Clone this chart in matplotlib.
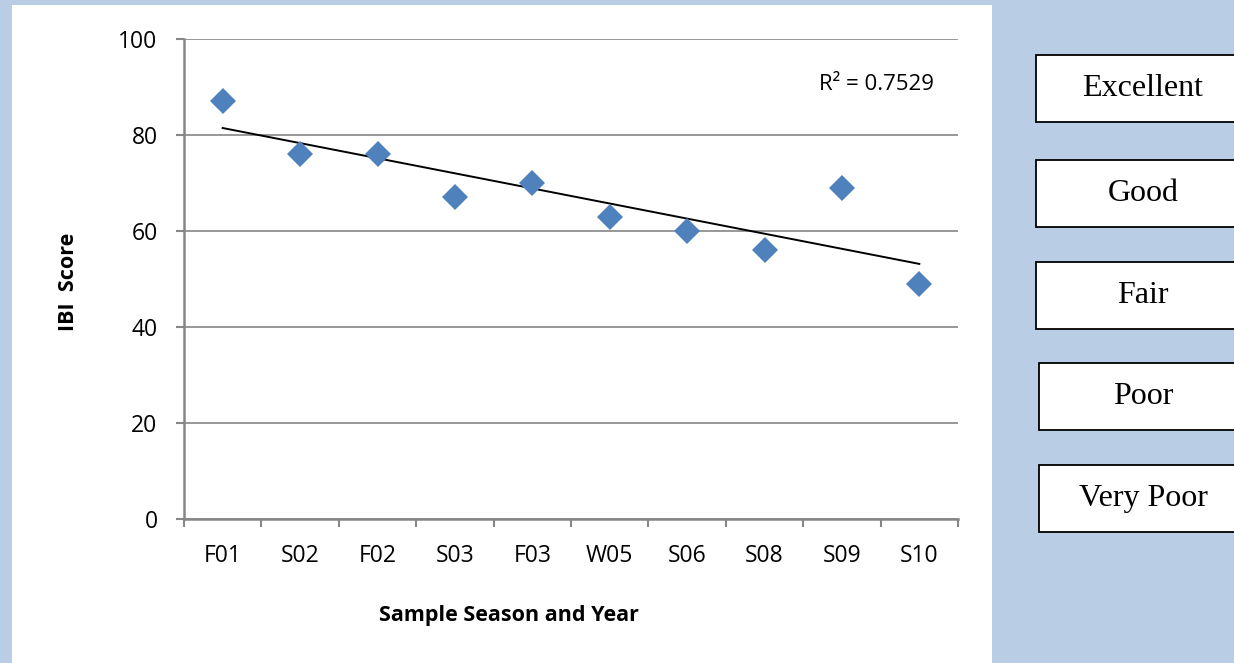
import numpy as np
import matplotlib.pyplot as plt
from matplotlib.patches import Rectangle

# IBI scores by sampling event
samples = ['F01', 'S02', 'F02', 'S03', 'F03', 'W05', 'S06', 'S08', 'S09', 'S10']
ibi_scores = [87, 76, 76, 67, 70, 63, 60, 56, 69, 49]
rating_labels = ['Excellent', 'Good', 'Fair', 'Poor', 'Very Poor']
y_ticks = [0, 20, 40, 60, 80, 100]

W, H = 1234, 663
BLUE = '#B9CDE5'
GRID = '#868686'
MARKER = '#4F81BD'
SANS = 'Open Sans'

fig = plt.figure(figsize=(W / 100, H / 100), dpi=100, facecolor=BLUE)

# white chart panel
fig.patches.append(Rectangle((12 / W, 0), (992 - 12) / W, 1 - 5 / H,
                             transform=fig.transFigure, facecolor='white',
                             edgecolor='none', zorder=-5))

ax = fig.add_axes([184 / W, 1 - 519 / H, (958 - 184) / W, (519 - 39) / H])
ax.set_facecolor('none')
ax.set_zorder(2)

x = np.arange(1, len(samples) + 1)
ax.plot(x, ibi_scores, linestyle='none', marker='D', markersize=13,
        color=MARKER, markeredgewidth=0, zorder=3)

# linear trendline
slope, intercept = np.polyfit(x, ibi_scores, 1)
fit = slope * x + intercept
ss_res = np.sum((np.array(ibi_scores) - fit) ** 2)
ss_tot = np.sum((np.array(ibi_scores) - np.mean(ibi_scores)) ** 2)
r2 = 1 - ss_res / ss_tot
ax.plot([x[0], x[-1]], [fit[0], fit[-1]], color='black', linewidth=1.4, zorder=2)
ax.text(0.895, 0.905, f'R² = {r2:.4f}', transform=ax.transAxes,
        ha='center', va='center', fontsize=16, family=SANS)

ax.set_xlim(0.5, len(samples) + 0.5)
ax.set_ylim(0, 100)
ax.set_yticks(y_ticks)
ax.yaxis.grid(True, color=GRID, linewidth=1.2)
ax.set_axisbelow(True)

# tick marks between categories, labels centred on them
ax.set_xticks(np.arange(0.5, len(samples) + 1, 1))
ax.set_xticklabels([])
ax.set_xticks(x, minor=True)
ax.set_xticklabels(samples, minor=True, fontsize=16.5, family=SANS)
ax.tick_params(axis='x', which='minor', length=0, pad=18)
ax.tick_params(axis='x', which='major', length=6, width=1.5, color=GRID)
ax.tick_params(axis='y', length=6, width=1.5, color=GRID, pad=13, labelsize=16.5)
for lbl in ax.get_yticklabels():
    lbl.set_family(SANS)

for side in ['top', 'right']:
    ax.spines[side].set_visible(False)
for side in ['left', 'bottom']:
    ax.spines[side].set_color(GRID)
    ax.spines[side].set_linewidth(1.8)

fig.text(509 / W, 1 - 615 / H, 'Sample Season and Year', ha='center', va='center',
         fontsize=15.5, fontweight='bold', family=SANS)
fig.text(68 / W, 1 - 282 / H, 'IBI  Score', ha='center', va='center', rotation=90,
         fontsize=15.5, fontweight='bold', family=SANS)

# rating boxes on the right
box_tops = [55, 160, 262, 363, 465]
box_lefts = [1036, 1036, 1036, 1039, 1039]
box_h = 67
for label, top, left in zip(rating_labels, box_tops, box_lefts):
    fig.patches.append(Rectangle((left / W, 1 - (top + box_h) / H), 220 / W, box_h / H,
                                 transform=fig.transFigure, facecolor='white',
                                 edgecolor='black', linewidth=1.3, zorder=1))
    fig.text(1143 / W, 1 - (top + box_h / 2) / H, label, ha='center', va='center',
             fontsize=23, family='Liberation Serif', zorder=3)

fig.savefig('out.png', dpi=100, facecolor=fig.get_facecolor())
